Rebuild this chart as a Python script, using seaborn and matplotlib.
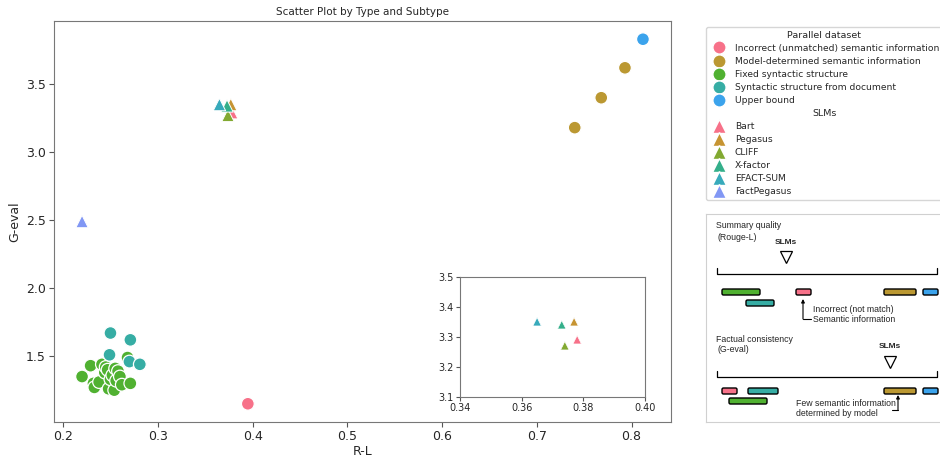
import numpy as np
import pandas as pd
import matplotlib
matplotlib.use("Agg")
import matplotlib.pyplot as plt
import seaborn as sns
from matplotlib.lines import Line2D
from matplotlib.patches import FancyBboxPatch

sns.set_style("white")
plt.rcParams['font.family'] = ['DejaVu Sans']

# ---- data ----
parallel_names = ['Incorrect (unmatched) semantic information',
                  'Model-determined semantic information',
                  'Fixed syntactic structure',
                  'Syntactic structure from document',
                  'Upper bound']

incorrect_x = [0.395]
incorrect_y = [1.15]
model_x = [0.740, 0.768, 0.793]
model_y = [3.18, 3.40, 3.62]
fixed_x = [0.220, 0.229, 0.232, 0.233, 0.238, 0.241, 0.244, 0.245, 0.247, 0.248,
           0.250, 0.252, 0.254, 0.255, 0.256, 0.258, 0.260, 0.262, 0.268, 0.271]
fixed_y = [1.35, 1.43, 1.30, 1.27, 1.31, 1.44, 1.38, 1.42, 1.40, 1.26,
           1.33, 1.36, 1.25, 1.41, 1.32, 1.39, 1.35, 1.29, 1.49, 1.30]
document_x = [0.250, 0.271, 0.249, 0.270, 0.281]
document_y = [1.67, 1.62, 1.51, 1.46, 1.44]
upper_x = [0.812]
upper_y = [3.83]

slm_names = ['Bart', 'Pegasus', 'CLIFF', 'X-factor', 'EFACT-SUM', 'FactPegasus']
slm_x = [0.378, 0.377, 0.374, 0.373, 0.365, 0.220]
slm_y = [3.29, 3.35, 3.27, 3.34, 3.35, 2.49]

x_ticks = [0.2, 0.3, 0.4, 0.5, 0.6, 0.7, 0.8]
y_ticks = [1.5, 2.0, 2.5, 3.0, 3.5]
inset_x_ticks = [0.34, 0.36, 0.38, 0.40]
inset_y_ticks = [3.1, 3.2, 3.3, 3.4, 3.5]

# ---- build table ----
rows = []
groups = [(incorrect_x, incorrect_y), (model_x, model_y), (fixed_x, fixed_y),
          (document_x, document_y), (upper_x, upper_y)]
for name, (xs, ys) in zip(parallel_names, groups):
    for x, y in zip(xs, ys):
        rows.append(('Parallel dataset', name, x, y))
for name, x, y in zip(slm_names, slm_x, slm_y):
    rows.append(('SLMs', name, x, y))
df = pd.DataFrame(rows, columns=['Type', 'Subtype', 'R-L', 'G-eval'])

par_colors = dict(zip(parallel_names, sns.color_palette("husl", 6)[:5]))
slm_colors = dict(zip(slm_names, sns.color_palette("husl", 7)[:6]))

# ---- figure ----
fig = plt.figure(figsize=(9.4, 4.57), dpi=100)
ax = fig.add_axes([54/940, 1-422/457, 617/940, 401/457])

par = df[df['Type'] == 'Parallel dataset']
slm = df[df['Type'] == 'SLMs']
sns.scatterplot(data=par, x='R-L', y='G-eval', hue='Subtype', palette=par_colors,
                marker='o', s=85, edgecolor='white', linewidth=0.9, legend=False, ax=ax)
sns.scatterplot(data=slm, x='R-L', y='G-eval', hue='Subtype', palette=slm_colors,
                marker='^', s=80, edgecolor='white', linewidth=0.7, legend=False, ax=ax)

ax.set_xticks(x_ticks)
ax.set_yticks(y_ticks)
ax.tick_params(labelsize=9, length=3.5, color='#555555', direction='out',
               left=True, bottom=True, pad=2.5)
ax.set_xlabel('R-L', fontsize=9, labelpad=1)
ax.set_ylabel('G-eval', fontsize=9, labelpad=3)
ax.set_title('Scatter Plot by Type and Subtype', fontsize=7.5, pad=4)
for sp in ax.spines.values():
    sp.set_color('#777777')

# ---- inset ----
axin = fig.add_axes([460/940, 1-396.7/457, 185/940, 120/457])
sns.scatterplot(data=slm, x='R-L', y='G-eval', hue='Subtype', palette=slm_colors,
                marker='^', s=38, edgecolor='white', linewidth=0.5, legend=False, ax=axin)
axin.set_xlim(0.34, 0.40)
axin.set_ylim(3.1, 3.5)
axin.set_xticks(inset_x_ticks)
axin.set_yticks(inset_y_ticks)
axin.set_xticklabels([f'{v:.2f}' for v in inset_x_ticks])
axin.set_xlabel('')
axin.set_ylabel('')
axin.tick_params(labelsize=7, length=3, color='#555555', direction='out',
                 left=True, bottom=True, pad=1.5)
for sp in axin.spines.values():
    sp.set_color('#777777')

# ---- legend ----
handles = []
labels = []
for name in parallel_names:
    handles.append(Line2D([], [], marker='o', linestyle='', markersize=9.5,
                          markerfacecolor=par_colors[name], markeredgecolor='white'))
    labels.append(name)
handles.append(Line2D([], [], linestyle='', marker=''))
labels.append(' ')
for name in slm_names:
    handles.append(Line2D([], [], marker='^', linestyle='', markersize=9.5,
                          markerfacecolor=slm_colors[name], markeredgecolor='white'))
    labels.append(name)

leg = ax.legend(handles, labels, title='Parallel dataset', loc='upper left',
                bbox_to_anchor=(706/940, 1-27/457), bbox_transform=fig.transFigure,
                fontsize=6.6, title_fontsize=6.8, borderaxespad=0, labelspacing=0.44,
                handlelength=2.0, handletextpad=0.75, borderpad=0.4, frameon=True)
leg.get_frame().set_edgecolor('#cccccc')

fig.canvas.draw()
lb = leg.get_window_extent()
tb = leg.get_texts()[len(parallel_names)].get_window_extent()
cx, cy = fig.transFigure.inverted().transform(((lb.x0 + lb.x1) / 2, (tb.y0 + tb.y1) / 2))
fig.text(cx, cy, 'SLMs', fontsize=6.8, ha='center', va='center')

# ---- schematic panel ----
sx = fig.add_axes([706/940, 1-422/457, 236/940, 208/457])
sx.set_xlim(706, 942)
sx.set_ylim(422, 214)
sx.set_xticks([])
sx.set_yticks([])
for sp in sx.spines.values():
    sp.set_color('#d0d0d0')

bar_colors = {'pink': par_colors[parallel_names[0]], 'gold': par_colors[parallel_names[1]],
              'green': par_colors[parallel_names[2]], 'teal': par_colors[parallel_names[3]],
              'blue': par_colors[parallel_names[4]]}
quality_bars = [(722, 760, 292, 'green'), (746, 774, 303, 'teal'), (796, 811, 292, 'pink'),
                (884, 916, 292, 'gold'), (923, 938, 292, 'blue')]
factual_bars = [(722, 737, 391, 'pink'), (748, 778, 391, 'teal'), (729, 767, 401, 'green'),
                (884, 916, 391, 'gold'), (923, 938, 391, 'blue')]
for x0, x1, yc, c in quality_bars + factual_bars:
    sx.add_patch(FancyBboxPatch((x0, yc - 3), x1 - x0, 6,
                                boxstyle="round,pad=0,rounding_size=1.5",
                                facecolor=bar_colors[c], edgecolor='black', linewidth=1.0))

sfont = ['Liberation Sans', 'DejaVu Sans']
fs = 6.3
sx.text(716, 226, 'Summary quality', fontsize=fs, va='center', family=sfont)
sx.text(717, 237, '(Rouge-L)', fontsize=fs, va='center', family=sfont)
sx.text(786, 243, 'SLMs', fontsize=6, fontweight='bold', ha='center', va='center', family=sfont)
sx.plot(786, 257, marker='v', mfc='none', mec='black', ms=8, mew=0.9)
sx.plot([717, 717, 937, 937], [268, 274, 274, 268], color='black', lw=0.9)

sx.annotate('', xy=(803, 299), xytext=(803, 319),
            arrowprops=dict(arrowstyle='-|>', lw=0.8, color='black', mutation_scale=5,
                            shrinkA=0, shrinkB=0))
sx.plot([803, 811], [319, 319], color='black', lw=0.8)
sx.text(813, 309, 'Incorrect (not match)', fontsize=fs, va='center', family=sfont)
sx.text(813, 319, 'Semantic information', fontsize=fs, va='center', family=sfont)

sx.text(716, 339, 'Factual consistency', fontsize=fs, va='center', family=sfont)
sx.text(717, 349, '(G-eval)', fontsize=fs, va='center', family=sfont)
sx.text(890, 346, 'SLMs', fontsize=6, fontweight='bold', ha='center', va='center', family=sfont)
sx.plot(890, 362, marker='v', mfc='none', mec='black', ms=8, mew=0.9)
sx.plot([717, 717, 937, 937], [371, 377, 377, 371], color='black', lw=0.9)

sx.annotate('', xy=(898, 395), xytext=(898, 410),
            arrowprops=dict(arrowstyle='-|>', lw=0.8, color='black', mutation_scale=5,
                            shrinkA=0, shrinkB=0))
sx.plot([892, 898], [410, 410], color='black', lw=0.8)
sx.text(796, 403, 'Few semantic information', fontsize=fs, va='center', family=sfont)
sx.text(796, 413, 'determined by model', fontsize=fs, va='center', family=sfont)

fig.savefig('out.png', dpi=100)
